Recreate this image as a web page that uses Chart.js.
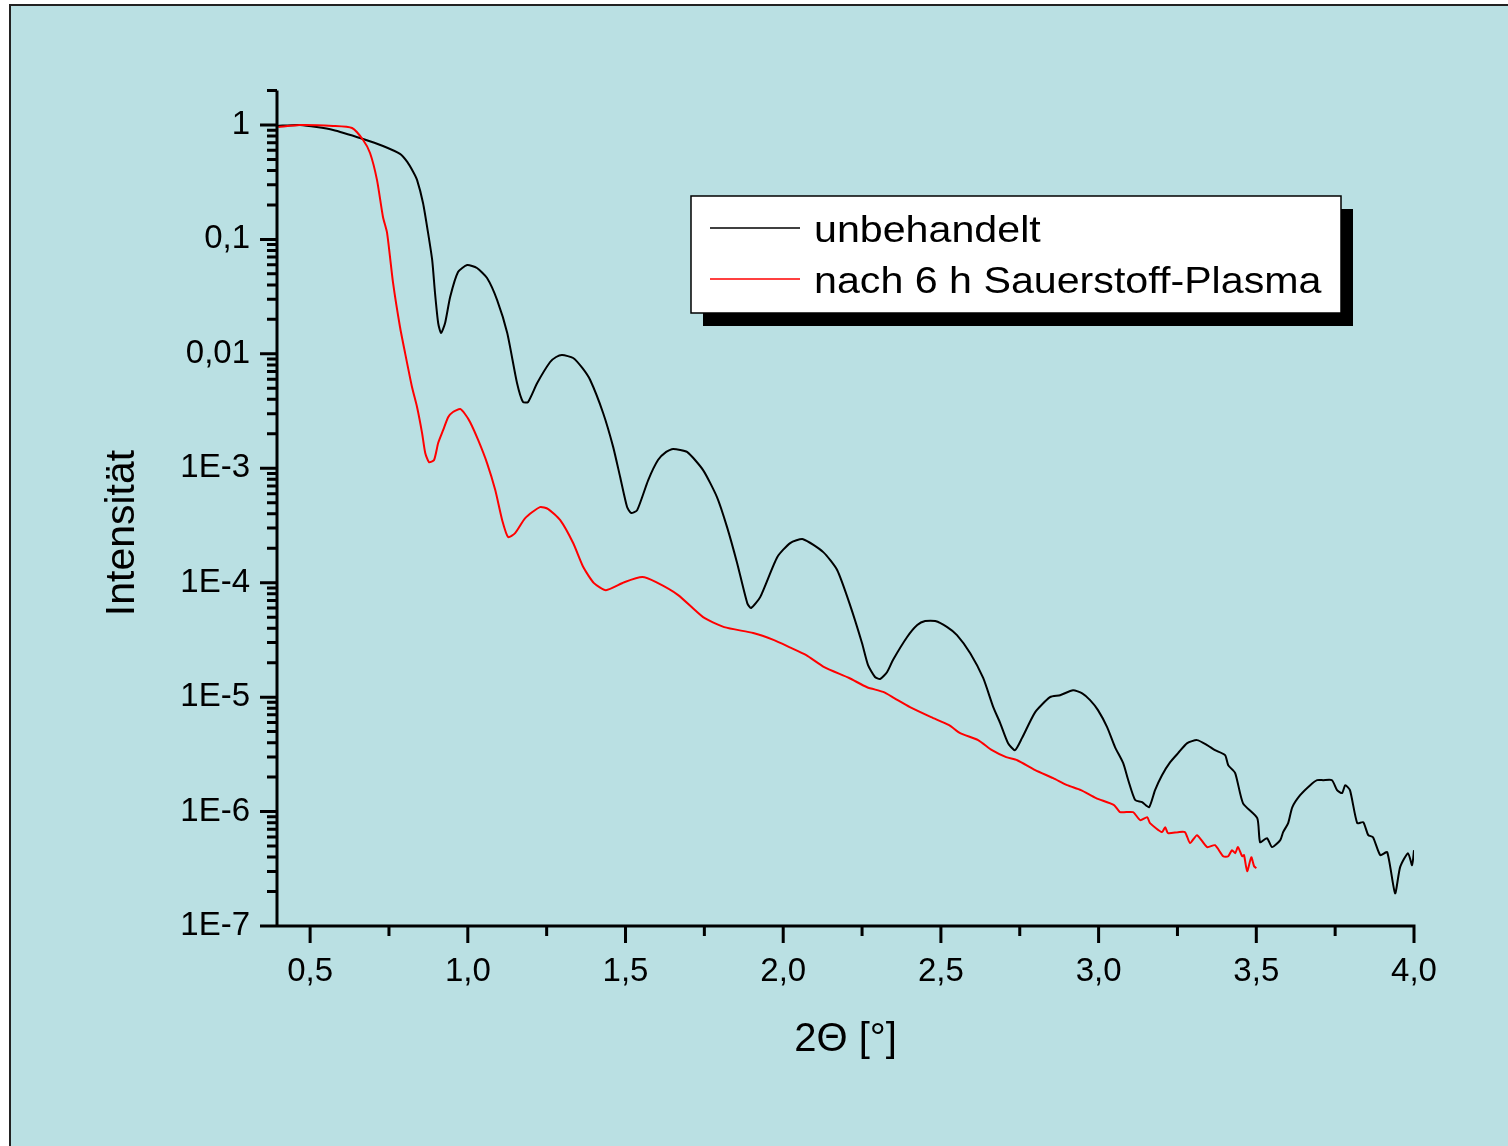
<!DOCTYPE html>
<html>
<head>
<meta charset="utf-8">
<script src="https://cdn.jsdelivr.net/npm/chart.js@4.4.1/dist/chart.umd.min.js"></script>
<style>
html,body{margin:0;padding:0;background:#fff;}
</style>
</head>
<body>
<canvas id="myChart" width="1508" height="1146"></canvas>
<script>
// unbehandelt (black)
const thetaUnbehandelt = [0.395,0.468,0.573,0.668,0.731,0.785,0.808,0.827,0.839,0.858,
  0.874,0.887,0.896,0.906,0.915,0.928,0.944,0.969,0.998,1.029,
  1.061,1.093,1.125,1.156,1.175,1.191,1.220,1.261,1.280,1.299,1.334,
  1.363,1.388,1.429,1.461,1.483,1.505,1.518,1.537,1.572,1.603,1.629,1.651,
  1.695,1.746,1.790,1.822,1.854,1.886,1.898,1.927,1.981,2.022,
  2.063,2.127,2.171,2.212,2.250,2.269,2.291,2.307,2.329,2.348,
  2.393,2.425,2.450,2.482,2.520,2.551,2.593,2.634,2.666,2.688,
  2.713,2.735,2.757,2.799,2.846,2.878,2.919,2.948,2.973,2.998,
  3.027,3.052,3.078,3.094,3.116,3.138,3.160,3.179,3.201,3.227,
  3.252,3.281,3.312,3.344,3.369,3.401,3.411,3.433,3.458,3.503,
  3.512,3.534,3.550,3.576,3.585,3.601,3.614,3.639,3.671,3.693,
  3.712,3.740,3.756,3.772,3.782,3.797,3.820,3.839,3.855,3.870,
  3.893,3.915,3.940,3.956,3.981,3.994,4.0];
const intUnbehandelt = [0.98,1.0,0.904,0.754,0.655,0.558,0.475,0.388,0.331,0.208,
  0.114,0.0661,0.0340,0.0186,0.0152,0.0186,0.0314,0.0519,0.0597,0.0562,
  0.0460,0.0295,0.0152,0.00556,0.00379,0.00379,0.00556,0.00848,0.00938,0.00976,0.00919,
  0.00752,0.00590,0.00304,0.00153,0.000838,0.000458,0.000406,0.000431,0.000789,0.00118,0.00139,0.00147,
  0.00139,0.000964,0.000560,0.000306,0.000148,6.63e-5,6.00e-5,7.48e-5,1.67e-4,2.22e-4,
  2.40e-4,1.85e-4,1.29e-4,6.37e-5,2.96e-5,1.905e-5,1.50e-5,1.44e-5,1.65e-5,2.11e-5,
  3.35e-5,4.26e-5,4.62e-5,4.62e-5,4.09e-5,3.48e-5,2.42e-5,1.47e-5,8.18e-6,5.93e-6,
  3.96e-6,3.44e-6,4.38e-6,7.40e-6,1.0e-5,1.04e-5,1.15e-5,1.08e-5,9.42e-6,7.70e-6,
  5.47e-6,3.66e-6,2.65e-6,1.88e-6,1.26e-6,1.21e-6,1.09e-6,1.54e-6,2.08e-6,2.70e-6,
  3.24e-6,3.96e-6,4.21e-6,3.81e-6,3.44e-6,3.11e-6,2.54e-6,2.17e-6,1.18e-6,8.76e-7,
  5.40e-7,5.85e-7,4.89e-7,5.62e-7,6.61e-7,7.92e-7,1.09e-6,1.39e-6,1.70e-6,1.88e-6,
  1.88e-6,1.88e-6,1.54e-6,1.45e-6,1.70e-6,1.54e-6,7.92e-7,8.08e-7,6.22e-7,5.97e-7,
  4.16e-7,4.42e-7,1.93e-7,3.27e-7,4.33e-7,3.40e-7,4.60e-7];

// nach 6 h Sauerstoff-Plasma (red)
const thetaPlasma = [0.399,0.468,0.573,0.633,0.668,0.690,0.712,0.731,0.744,0.763,
  0.785,0.801,0.823,0.839,0.855,0.865,0.877,0.893,0.906,0.922,
  0.938,0.953,0.976,0.991,1.007,1.033,1.061,1.087,1.109,1.128,
  1.150,1.182,1.229,1.255,1.293,1.334,1.366,1.400,1.438,1.496,
  1.553,1.597,1.667,1.746,1.813,1.905,1.971,2.019,2.073,2.130,
  2.209,2.266,2.317,2.352,2.402,2.469,2.526,2.561,2.618,2.662,
  2.707,2.742,2.799,2.856,2.900,2.944,2.992,3.049,3.068,3.109,
  3.132,3.154,3.163,3.201,3.211,3.220,3.252,3.274,3.290,3.312,
  3.344,3.369,3.395,3.411,3.423,3.433,3.442,3.455,3.461,3.471,
  3.484,3.493,3.50];
const intPlasma = [0.96,1.0,0.98,0.94,0.739,0.569,0.331,0.157,0.114,0.0416,
  0.01715,0.0102,0.00513,0.00343,0.00203,0.00136,0.00113,0.00118,0.00166,0.00216,
  0.00280,0.00310,0.00329,0.00298,0.00254,0.00176,0.00111,0.000645,0.000352,0.000250,
  0.000271,0.000367,0.000458,0.000440,0.000352,0.000222,0.000137,9.92e-5,8.61e-5,1.01e-4,
  1.12e-4,1.01e-4,7.79e-5,5.00e-5,4.09e-5,3.63e-5,3.15e-5,2.74e-5,2.33e-5,1.83e-5,
  1.47e-5,1.22e-5,1.11e-5,9.80e-6,8.18e-6,6.69e-6,5.69e-6,4.84e-6,4.21e-6,3.44e-6,
  2.99e-6,2.81e-6,2.30e-6,1.96e-6,1.70e-6,1.54e-6,1.31e-6,1.14e-6,9.89e-7,9.89e-7,
  8.41e-7,8.93e-7,7.92e-7,6.61e-7,7.31e-7,6.48e-7,6.61e-7,6.61e-7,5.30e-7,6.22e-7,
  4.89e-7,5.08e-7,4.07e-7,4.07e-7,4.60e-7,4.33e-7,4.89e-7,4.07e-7,4.16e-7,3.01e-7,
  3.99e-7,3.33e-7,3.20e-7];

const xTickValues = [0.5,1.0,1.5,2.0,2.5,3.0,3.5,4.0];
const xTickLabels = ['0,5','1,0','1,5','2,0','2,5','3,0','3,5','4,0'];
const xMinorTicks = [0.75,1.25,1.75,2.25,2.75,3.25,3.75];
const yTickValues = [1e-7,1e-6,1e-5,1e-4,1e-3,1e-2,1e-1,1];
const yTickLabels = ['1E-7','1E-6','1E-5','1E-4','1E-3','0,01','0,1','1'];

const FONT = '"Liberation Sans", Arial, sans-serif';

const framePlugin = {
  id: 'frame',
  beforeDraw(chart) {
    const c = chart.ctx;
    c.save();
    c.fillStyle = '#fff';
    c.fillRect(0, 0, chart.width, chart.height);
    c.fillStyle = '#bae0e3';
    c.fillRect(10, 5, chart.width - 10, chart.height - 5);
    c.strokeStyle = '#222';
    c.lineWidth = 2;
    c.beginPath();
    c.moveTo(10, chart.height); c.lineTo(10, 5); c.lineTo(chart.width, 5);
    c.stroke();
    c.restore();
  },
  afterDraw(chart) {
    const c = chart.ctx, a = chart.chartArea;
    const xs = chart.scales.x, ys = chart.scales.y;
    c.save();
    // axes and ticks
    c.strokeStyle = '#000';
    c.lineWidth = 3;
    c.beginPath();
    c.moveTo(a.left, a.top); c.lineTo(a.left, a.bottom + 1.5);
    c.moveTo(a.left, a.bottom); c.lineTo(a.right + 1.5, a.bottom);
    xTickValues.forEach(v => {
      const px = xs.getPixelForValue(v);
      c.moveTo(px, a.bottom); c.lineTo(px, a.bottom + 17);
    });
    xMinorTicks.forEach(v => {
      const px = xs.getPixelForValue(v);
      c.moveTo(px, a.bottom); c.lineTo(px, a.bottom + 10);
    });
    yTickValues.forEach(v => {
      const py = ys.getPixelForValue(v);
      c.moveTo(a.left, py); c.lineTo(a.left - 17, py);
      for (let m = 2; m <= 9; m++) {
        if (m * v > ys.max * 1.0001) break;
        const pm = ys.getPixelForValue(m * v);
        c.moveTo(a.left, pm); c.lineTo(a.left - 10, pm);
      }
    });
    c.stroke();

    // axis titles
    c.fillStyle = '#000';
    c.textAlign = 'center';
    c.textBaseline = 'alphabetic';
    c.font = '40px ' + FONT;
    c.fillText('2\u0398 [\u00b0]', (a.left + a.right) / 2, 1051);
    c.save();
    c.translate(134, 533);
    c.rotate(-Math.PI / 2);
    c.font = '41px ' + FONT;
    c.fillText('Intensit\u00e4t', 0, 0);
    c.restore();

    // legend box with shadow
    const lx = 691, ly = 196, lw = 650, lh = 117;
    c.fillStyle = '#000';
    c.fillRect(lx + 12, ly + 13, lw, lh);
    c.fillStyle = '#fff';
    c.fillRect(lx, ly, lw, lh);
    c.lineWidth = 1.5;
    c.strokeStyle = '#000';
    c.strokeRect(lx, ly, lw, lh);
    chart.data.datasets.forEach((ds, i) => {
      const y = 228 + i * 51;
      c.strokeStyle = ds.borderColor;
      c.lineWidth = 1.5;
      c.beginPath(); c.moveTo(710, y); c.lineTo(800, y); c.stroke();
      c.save();
      c.translate(814, y + 14);
      c.scale(1.144, 1);
      c.font = '36px ' + FONT;
      c.fillStyle = '#000';
      c.textAlign = 'left';
      c.fillText(ds.label, 0, 0);
      c.restore();
    });
    c.restore();
  }
};

const ctx = document.getElementById('myChart').getContext('2d');
const myChart = new Chart(ctx, {
  type: 'line',
  data: {
    datasets: [{
      label: 'unbehandelt',
      data: thetaUnbehandelt.map((t, i) => ({x: t, y: intUnbehandelt[i]})),
      borderColor: '#000000',
      borderWidth: 2,
      pointRadius: 0,
      tension: 0.2,
      order: 1
    }, {
      label: 'nach 6 h Sauerstoff-Plasma',
      data: thetaPlasma.map((t, i) => ({x: t, y: intPlasma[i]})),
      borderColor: '#ff0000',
      borderWidth: 2,
      pointRadius: 0,
      tension: 0.2,
      order: 0
    }]
  },
  options: {
    responsive: false,
    animation: false,
    devicePixelRatio: 1,
    layout: {
      autoPadding: false,
      padding: {left: 0, right: 94, top: 90.5, bottom: 0}
    },
    plugins: {
      legend: {display: false},
      tooltip: {enabled: false}
    },
    scales: {
      x: {
        type: 'linear',
        position: 'bottom',
        min: 0.395,
        max: 4.0,
        grid: {display: false, drawTicks: false},
        border: {display: false},
        afterBuildTicks: s => { s.ticks = xTickValues.map(v => ({value: v})); },
        afterFit: s => { s.height = 220; },
        ticks: {
          callback: (v, i) => xTickLabels[i],
          font: {family: FONT, size: 33},
          color: '#000',
          padding: 26,
          maxRotation: 0,
          autoSkip: false
        }
      },
      y: {
        type: 'logarithmic',
        position: 'left',
        min: 1e-7,
        max: 2,
        grid: {display: false, drawTicks: false},
        border: {display: false},
        afterBuildTicks: s => { s.ticks = yTickValues.map(v => ({value: v})); },
        afterFit: s => { s.width = 277; },
        ticks: {
          callback: (v, i) => yTickLabels[i],
          font: {family: FONT, size: 33},
          color: '#000',
          padding: 27,
          autoSkip: false
        }
      }
    }
  },
  plugins: [framePlugin]
});
</script>
</body>
</html>
